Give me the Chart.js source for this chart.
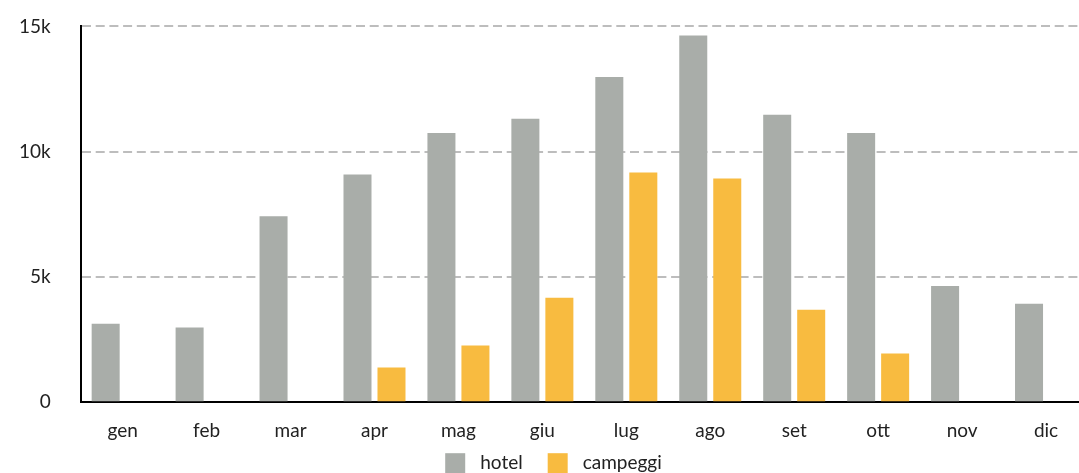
<!DOCTYPE html>
<html>
<head>
<meta charset="utf-8">
<script src="https://cdn.jsdelivr.net/npm/chart.js@4"></script>
<style>
  html, body { margin: 0; padding: 0; background: #fff; overflow: hidden; }
  #wrap { position: absolute; left: -11px; top: -15px; width: 1119px; height: 497px; }
</style>
</head>
<body>
<div id="wrap"><canvas id="chartCanvas"></canvas></div>
<script>
// months
var months = ['gen', 'feb', 'mar', 'apr', 'mag', 'giu', 'lug', 'ago', 'set', 'ott', 'nov', 'dic'];
// series (presenze)
var hotel = [3130, 2980, 7420, 9090, 10750, 11310, 12980, 14640, 11470, 10750, 4640, 3930];
var campeggi = [0, 0, 0, 1390, 2260, 4170, 9170, 8930, 3690, 1940, 0, 0];
var yTicks = [0, 5000, 10000, 15000];

Chart.defaults.font.family = 'Lato, "Noto Sans", sans-serif';
Chart.defaults.color = '#222';

// legend drawn by hand so the spacing matches (box 20, gap 15, item gap 25)
var bottomLegend = {
    id: 'bottomLegend',
    afterDraw: function (chart) {
        var c = chart.ctx;
        var sets = chart.data.datasets;
        c.save();
        c.font = '19px Lato, "Noto Sans", sans-serif';
        c.textBaseline = 'middle';
        var widths = sets.map(function (d) { return 20 + 15 + c.measureText(d.label).width; });
        var total = widths.reduce(function (a, b) { return a + b; }, 0) + 25 * (sets.length - 1);
        var x = chart.width / 2 + 5 - total / 2;
        var y = chart.chartArea.bottom + 61;
        sets.forEach(function (d, i) {
            c.fillStyle = d.backgroundColor;
            c.fillRect(x, y - 10, 20, 20);
            c.fillStyle = '#222';
            c.fillText(d.label, x + 35, y);
            x += widths[i] + 25;
        });
        c.restore();
    }
};

var ctx = document.getElementById('chartCanvas').getContext('2d');
var chart = new Chart(ctx, {
    type: 'bar',
    data: {
        labels: months,
        datasets: [{
            label: 'hotel',
            backgroundColor: '#a9ada9',
            data: hotel
        },
        {
            label: 'campeggi',
            backgroundColor: '#f8bb40',
            data: campeggi
        }]
    },
    options: {
        responsive: true,
        maintainAspectRatio: false,
        animation: false,
        categoryPercentage: 0.81,
        barPercentage: 0.824,
        layout: { padding: { top: 0, right: 20, left: 0, bottom: 23 } },
        plugins: {
            legend: { display: false },
            tooltip: { enabled: false }
        },
        scales: {
            x: {
                grid: { display: false, drawTicks: false },
                border: { color: '#000', width: 2 },
                ticks: { font: { size: 19 }, padding: 17 }
            },
            y: {
                min: 0,
                max: 15000,
                afterBuildTicks: function (axis) {
                    axis.ticks = yTicks.map(function (v) { return { value: v }; });
                },
                grid: { color: '#bdbdbd', lineWidth: 2, drawTicks: false },
                border: { color: '#000', width: 2, dash: [9, 4.7] },
                ticks: {
                    font: { size: 19 },
                    padding: 30,
                    callback: function (v) { return v === 0 ? '0' : (v / 1000) + 'k'; }
                }
            }
        }
    },
    plugins: [bottomLegend]
});
</script>
</body>
</html>
